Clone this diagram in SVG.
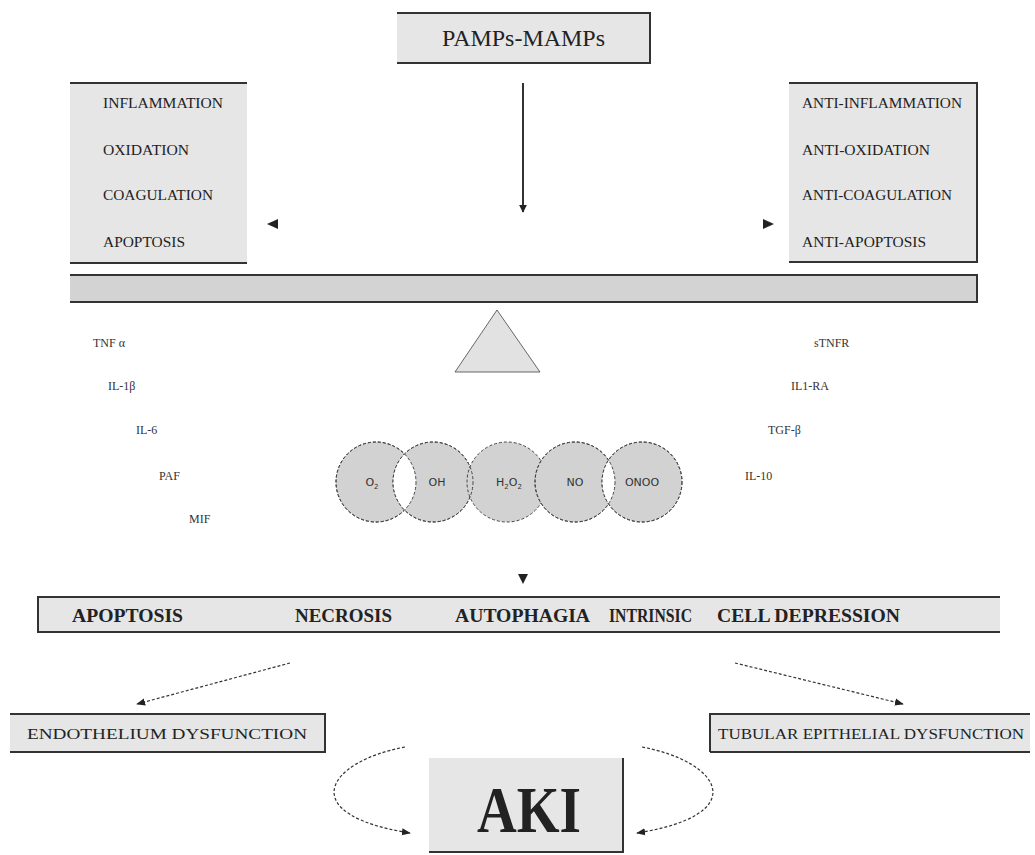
<svg xmlns="http://www.w3.org/2000/svg" width="1035" height="855" viewBox="0 0 1035 855">
  <style>
    text { font-family: "Liberation Serif", "Times New Roman", serif; fill: #222; }
    .box { fill: #e6e6e6; stroke: none; }
    .edge { stroke: #333; stroke-width: 2; fill: none; }
    .lbl { font-size: 14px; }
    .cyt { font-size: 12px; fill: #333; }
    .mol { font-family: "DejaVu Sans", "Liberation Sans", sans-serif; font-size: 11px; fill: #333; }
    .fate { font-size: 18px; font-weight: bold; }
    .ros { fill: #d2d2d2; stroke: #444; stroke-width: 1; stroke-dasharray: 3 2; }
    .solid { stroke: #333; stroke-width: 2; fill: none; }
    .dash { stroke: #333; stroke-width: 1.2; stroke-dasharray: 3 2; fill: none; }
  </style>
  <defs>
    <marker id="head" viewBox="0 0 10 10" refX="9" refY="5" markerWidth="8" markerHeight="8" orient="auto" markerUnits="userSpaceOnUse">
      <path d="M0,0 L10,5 L0,10 z" fill="#222"/>
    </marker>
    <marker id="headSm" viewBox="0 0 10 10" refX="9" refY="5" markerWidth="9" markerHeight="9" orient="auto" markerUnits="userSpaceOnUse">
      <path d="M0,1 L10,5 L0,9 z" fill="#222"/>
    </marker>
    <clipPath id="clipO2"><circle cx="376" cy="482" r="40"/></clipPath>
    <clipPath id="clipNO"><circle cx="575" cy="482" r="40"/></clipPath>
  </defs>

  <g id="pamps">
    <rect class="box" x="397" y="13" width="253" height="50"/>
    <path class="edge" d="M397,13 H650 V63 H397"/>
    <text x="442" y="46" font-size="23" textLength="163" lengthAdjust="spacingAndGlyphs">PAMPs-MAMPs</text>
  </g>

  <g id="pro">
    <rect class="box" x="70" y="83" width="177" height="180"/>
    <path class="edge" d="M70,83 H247 M70,263 H247"/>
    <text class="lbl" x="103" y="108" textLength="120" lengthAdjust="spacingAndGlyphs">INFLAMMATION</text>
    <text class="lbl" x="103" y="155" textLength="86" lengthAdjust="spacingAndGlyphs">OXIDATION</text>
    <text class="lbl" x="103" y="200" textLength="110" lengthAdjust="spacingAndGlyphs">COAGULATION</text>
    <text class="lbl" x="103" y="247" textLength="82" lengthAdjust="spacingAndGlyphs">APOPTOSIS</text>
  </g>

  <g id="anti">
    <rect class="box" x="789" y="83" width="188" height="179"/>
    <path class="edge" d="M789,83 H977 V262 H789"/>
    <text class="lbl" x="802" y="108" textLength="160" lengthAdjust="spacingAndGlyphs">ANTI-INFLAMMATION</text>
    <text class="lbl" x="802" y="155" textLength="128" lengthAdjust="spacingAndGlyphs">ANTI-OXIDATION</text>
    <text class="lbl" x="802" y="200" textLength="150" lengthAdjust="spacingAndGlyphs">ANTI-COAGULATION</text>
    <text class="lbl" x="802" y="247" textLength="124" lengthAdjust="spacingAndGlyphs">ANTI-APOPTOSIS</text>
  </g>

  <g id="balance">
    <rect x="70" y="275" width="907" height="27" fill="#d3d3d3"/>
    <path class="edge" d="M70,275 H977 V302 H70"/>
    <polygon points="497,310 455,372 540,372" fill="#e2e2e2" stroke="#444" stroke-width="0.8"/>
  </g>

  <g id="pro-mediators">
    <text class="cyt" x="93" y="347">TNF α</text>
    <text class="cyt" x="108" y="390">IL-1β</text>
    <text class="cyt" x="136" y="434">IL-6</text>
    <text class="cyt" x="159" y="480">PAF</text>
    <text class="cyt" x="189" y="523">MIF</text>
  </g>

  <g id="anti-mediators">
    <text class="cyt" x="814" y="347">sTNFR</text>
    <text class="cyt" x="791" y="390">IL1-RA</text>
    <text class="cyt" x="768" y="434">TGF-β</text>
    <text class="cyt" x="745" y="480">IL-10</text>
  </g>

  <g id="ros">
    <circle class="ros" cx="376" cy="482" r="40"/>
    <circle class="ros" cx="433" cy="482" r="40"/>
    <circle class="ros" cx="507" cy="482" r="40"/>
    <circle class="ros" cx="575" cy="482" r="40"/>
    <circle class="ros" cx="642" cy="482" r="40"/>
    <!-- lens-shaped overlaps left unshaded -->
    <circle cx="433" cy="482" r="40" fill="#fff" clip-path="url(#clipO2)"/>
    <circle cx="642" cy="482" r="40" fill="#fff" clip-path="url(#clipNO)"/>
    <circle cx="376" cy="482" r="40" fill="none" stroke="#444" stroke-dasharray="3 2"/>
    <circle cx="433" cy="482" r="40" fill="none" stroke="#444" stroke-dasharray="3 2"/>
    <circle cx="575" cy="482" r="40" fill="none" stroke="#444" stroke-dasharray="3 2"/>
    <circle cx="642" cy="482" r="40" fill="none" stroke="#444" stroke-dasharray="3 2"/>
    <text class="mol" x="372" y="486" text-anchor="middle">O<tspan font-size="7" dy="3">2</tspan></text>
    <text class="mol" x="437" y="486" text-anchor="middle">OH</text>
    <text class="mol" x="509" y="486" text-anchor="middle">H<tspan font-size="7" dy="3">2</tspan><tspan dy="-3">O</tspan><tspan font-size="7" dy="3">2</tspan></text>
    <text class="mol" x="575" y="486" text-anchor="middle">NO</text>
    <text class="mol" x="642" y="486" text-anchor="middle">ONOO</text>
  </g>

  <g id="cell-fate">
    <rect class="box" x="38" y="597" width="962" height="35"/>
    <path class="edge" d="M1000,597 H38 V632 H1000"/>
    <text class="fate" x="72" y="622" textLength="111" lengthAdjust="spacingAndGlyphs">APOPTOSIS</text>
    <text class="fate" x="295" y="622" textLength="97" lengthAdjust="spacingAndGlyphs">NECROSIS</text>
    <text class="fate" x="455" y="622" textLength="135" lengthAdjust="spacingAndGlyphs">AUTOPHAGIA</text>
    <text class="fate" x="609" y="622" textLength="83" lengthAdjust="spacingAndGlyphs">INTRINSIC</text>
    <text class="fate" x="717" y="622" textLength="183" lengthAdjust="spacingAndGlyphs">CELL DEPRESSION</text>
  </g>

  <g id="endothelium">
    <rect class="box" x="10" y="714" width="315" height="38"/>
    <path class="edge" d="M10,714 H325 V752 H10"/>
    <text class="lbl" x="167" y="739" text-anchor="middle" textLength="280" lengthAdjust="spacingAndGlyphs">ENDOTHELIUM DYSFUNCTION</text>
  </g>

  <g id="tubular">
    <rect class="box" x="710" y="714" width="320" height="38"/>
    <path class="edge" d="M710,752 V714 H1030 M710,752 H1030"/>
    <text class="lbl" x="871" y="739" text-anchor="middle" textLength="306" lengthAdjust="spacingAndGlyphs">TUBULAR EPITHELIAL DYSFUNCTION</text>
  </g>

  <g id="aki">
    <rect class="box" x="429" y="758" width="194" height="94"/>
    <path class="edge" d="M623,758 V852 H429"/>
    <text x="477" y="832" font-size="66" font-weight="bold" textLength="104" lengthAdjust="spacingAndGlyphs">AKI</text>
  </g>

  <g id="connectors">
    <line class="solid" x1="523" y1="83" x2="523" y2="212" marker-end="url(#head)"/>
    <path d="M278,219 L267,224 L278,229 z" fill="#222"/>
    <path d="M763,219 L774,224 L763,229 z" fill="#222"/>
    <path d="M518,574 L528,574 L523,584 z" fill="#222"/>
    <line class="dash" x1="290" y1="663" x2="137" y2="704" marker-end="url(#headSm)"/>
    <line class="dash" x1="735" y1="663" x2="903" y2="704" marker-end="url(#headSm)"/>
    <path class="dash" d="M405,747 C325,762 295,815 410,833" marker-end="url(#headSm)"/>
    <path class="dash" d="M642,747 C722,762 752,815 637,833" marker-end="url(#headSm)"/>
  </g>
</svg>
